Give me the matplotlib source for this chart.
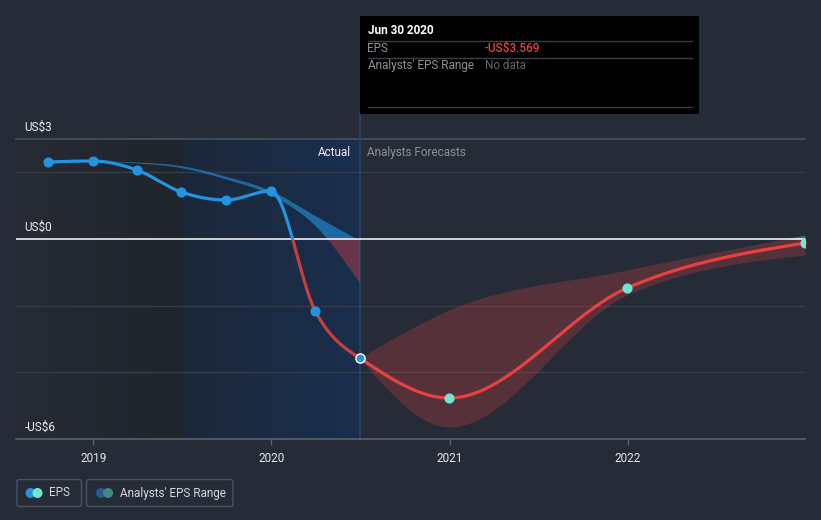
import numpy as np
import pandas as pd
import matplotlib
matplotlib.use("Agg")
import matplotlib.pyplot as plt
import matplotlib.dates as mdates
from matplotlib.patches import Rectangle, FancyBboxPatch, Circle

plt.rcParams['font.family'] = ['Roboto', 'DejaVu Sans']

# ---------------- data ----------------
actual_dates = ["2018-09-30", "2018-12-31", "2019-03-31", "2019-06-30",
                "2019-09-30", "2019-12-31", "2020-03-31", "2020-06-30"]
actual_eps = [2.31, 2.34, 2.07, 1.41, 1.17, 1.44, -2.16, -3.569]

forecast_dates = ["2020-06-30", "2020-12-31", "2021-12-31", "2022-12-31"]
forecast_eps = [-3.569, -4.77, -1.47, -0.12]

past_range_dates = ["2018-12-31", "2019-03-31", "2019-06-30", "2019-09-30",
                    "2019-12-31", "2020-03-31", "2020-06-30"]
past_range_high = [2.34, 2.31, 2.20, 1.88, 1.45, 0.70, -0.05]
past_range_low = [2.34, 2.28, 2.14, 1.80, 1.32, 0.40, -1.32]

fc_range_dates = ["2020-06-30", "2020-12-31", "2021-12-31", "2022-12-31"]
fc_range_high = [-3.569, -2.13, -0.93, 0.12]
fc_range_low = [-3.569, -5.64, -1.68, -0.48]

year_ticks = ["2019", "2020", "2021", "2022"]
y_label_values = [3, 0, -6]
y_label_texts = ["US$3", "US$0", "-US$6"]
grid_values = [2, -2, -4]

tooltip_date = "Jun 30 2020"
tooltip_eps = "-US$3.569"
tooltip_range = "No data"

# ---------------- colours ----------------
BG = "#262c37"
BLUE = "#2394df"
RED = "#e8413f"
TEAL = "#6ee6d2"


def dnum(lst):
    return mdates.date2num(pd.to_datetime(lst).to_pydatetime())


def monotone(x, y, n=120):
    """d3 curveMonotoneX style interpolation."""
    x = np.asarray(x, float)
    y = np.asarray(y, float)
    h = np.diff(x)
    s = np.diff(y) / h
    m = len(x)
    t = np.zeros(m)
    for i in range(1, m - 1):
        h0, h1 = h[i - 1], h[i]
        s0, s1 = s[i - 1], s[i]
        p = (s0 * h1 + s1 * h0) / (h0 + h1)
        t[i] = (np.sign(s0) + np.sign(s1)) * min(abs(s0), abs(s1), 0.5 * abs(p))
    if m > 2:
        t[0] = (3 * s[0] - t[1]) / 2
        t[-1] = (3 * s[-1] - t[-2]) / 2
    else:
        t[0] = t[-1] = s[0]
    xs, ys = [], []
    for i in range(m - 1):
        u = np.linspace(0, 1, n)
        hh = h[i]
        h00 = 2 * u**3 - 3 * u**2 + 1
        h10 = u**3 - 2 * u**2 + u
        h01 = -2 * u**3 + 3 * u**2
        h11 = u**3 - u**2
        yy = h00 * y[i] + h10 * hh * t[i] + h01 * y[i + 1] + h11 * hh * t[i + 1]
        xx = x[i] + u * hh
        if i > 0:
            xx, yy = xx[1:], yy[1:]
        xs.append(xx)
        ys.append(yy)
    return np.concatenate(xs), np.concatenate(ys)


ax_x = dnum(actual_dates)
fx = dnum(forecast_dates)
prx = dnum(past_range_dates)
frx = dnum(fc_range_dates)

xmin = dnum(["2018-12-31"])[0] - 158
xmax = dnum(["2022-12-31"])[0]
YMIN, YMAX = -6, 3

fig = plt.figure(figsize=(8.21, 5.2), dpi=100, facecolor=BG)
ax = fig.add_axes([16 / 821, 81 / 520, 789 / 821, 300 / 520])
ax.set_facecolor(BG)

# ----- background regions -----
split1 = dnum(["2019-06-30"])[0]
split2 = dnum(["2020-06-30"])[0]


def hgrad(c0, c1, n=256):
    a = np.array(matplotlib.colors.to_rgb(c0))
    b = np.array(matplotlib.colors.to_rgb(c1))
    u = np.linspace(0, 1, n)[:, None]
    return (a + (b - a) * u)[None, :, :]


ax.imshow(hgrad("#262b34", "#20242b"), extent=[xmin, split1, YMIN, YMAX],
          aspect="auto", zorder=0, interpolation="bilinear")
ax.imshow(hgrad("#1c2739", "#192f4e"), extent=[split1, split2, YMIN, YMAX],
          aspect="auto", zorder=0, interpolation="bilinear")

# gridlines
for g in grid_values:
    ax.axhline(g, color="#363d49", lw=1, zorder=1)
ax.axhline(YMAX, color="#4a515d", lw=1.2, zorder=1, clip_on=False)
ax.axhline(0, color="white", lw=1.1, zorder=3)

# vertical "now" line extending up to tooltip
ax.axvline(split2, ymin=0, ymax=(439 - 114) / 300, color="#27446a", lw=1.2,
           zorder=2, clip_on=False)

upper_clip = lambda: Rectangle((xmin - 1000, 0), 5000, 20, transform=ax.transData)
lower_clip = lambda: Rectangle((xmin - 1000, -20), 5000, 20, transform=ax.transData)

# ----- past analyst range band -----
bx, bh = monotone(prx, past_range_high)
_, bl = monotone(prx, past_range_low)
ax.fill_between(bx, np.maximum(bl, 0), np.maximum(bh, 0), color=BLUE,
                alpha=0.6, lw=0, zorder=2)
ax.fill_between(bx, np.minimum(bl, 0), np.minimum(bh, 0), color=RED,
                alpha=0.38, lw=0, zorder=2)

# ----- forecast range band -----
fbx, fbh = monotone(frx, fc_range_high)
_, fbl = monotone(frx, fc_range_low)
ax.fill_between(fbx, np.maximum(fbl, 0), np.maximum(fbh, 0), color=TEAL,
                alpha=0.35, lw=0, zorder=2)
ax.fill_between(fbx, np.minimum(fbl, 0), np.minimum(fbh, 0), color=RED,
                alpha=0.25, lw=0, zorder=2)

# ----- EPS lines -----
lx, ly = monotone(ax_x, actual_eps)
l1, = ax.plot(lx, ly, color=BLUE, lw=2.3, zorder=4, solid_capstyle="round")
l1.set_clip_path(upper_clip())
l2, = ax.plot(lx, ly, color=RED, lw=2.3, zorder=4, alpha=0.85)
l2.set_clip_path(lower_clip())

flx, fly = monotone(fx, forecast_eps)
l3, = ax.plot(flx, fly, color=RED, lw=2.3, zorder=4)
l3.set_clip_path(lower_clip())
l4, = ax.plot(flx, fly, color=TEAL, lw=2.3, zorder=4)
l4.set_clip_path(upper_clip())

# markers
ax.plot(ax_x[:-1], actual_eps[:-1], "o", color=BLUE, ms=6.3, zorder=5)
ax.plot(ax_x[-1:], actual_eps[-1:], "o", color=BLUE, ms=6.6, mec="white",
        mew=1.0, zorder=6)
ax.plot(fx[1:], forecast_eps[1:], "o", color=TEAL, ms=6.3, zorder=5)

# axes styling
ax.set_xlim(xmin, xmax)
ax.set_ylim(YMIN, YMAX)
ax.set_yticks([])
ax.set_xticks(dnum([f"{y}-01-01" for y in year_ticks]))
ax.set_xticklabels(year_ticks)
ax.tick_params(axis="x", colors="#5a616c", labelcolor="#e6e8eb", length=4,
               width=1, labelsize=8.5, pad=5)
for s in ["top", "left", "right"]:
    ax.spines[s].set_visible(False)
ax.spines["bottom"].set_color("#5a616c")
ax.spines["bottom"].set_linewidth(1.2)

# y labels
for v, t in zip(y_label_values, y_label_texts):
    ax.annotate(t, xy=(0.011, v), xycoords=("axes fraction", "data"),
                xytext=(0, 8.5), textcoords="offset points", va="center",
                ha="left", color="#eceef1", fontsize=8.5)

ax.annotate("Actual", xy=(split2, 2.6), xytext=(-6, 0),
            textcoords="offset points", ha="right", va="center",
            color="#eceef1", fontsize=8.5, zorder=7)
ax.annotate("Analysts Forecasts", xy=(split2, 2.6), xytext=(5.5, 0),
            textcoords="offset points", ha="left", va="center",
            color="#8b9099", fontsize=8.5, zorder=7)

# ----- overlay in pixel coordinates -----
ov = fig.add_axes([0, 0, 1, 1], zorder=10)
ov.set_xlim(0, 821)
ov.set_ylim(520, 0)
ov.axis("off")
ov.patch.set_alpha(0)

# tooltip
ov.add_patch(Rectangle((359.5, 15.5), 339.5, 98.5, facecolor="black",
                       edgecolor="none"))
ov.text(367.5, 31, tooltip_date, color="white", fontsize=8.5,
        fontweight="bold", va="center", ha="left")
for yy in (40.5, 57.5, 106.5):
    ov.plot([367.5, 691.5], [yy, yy], color="#3b3f45", lw=1)
ov.text(367.5, 48.5, "EPS", color="#8e9299", fontsize=8.5, va="center")
ov.text(485, 48.5, tooltip_eps, color=RED, fontsize=8.5, va="center",
        fontweight="medium")
ov.text(367.5, 65.5, "Analysts' EPS Range", color="#8e9299", fontsize=8.5,
        va="center")
ov.text(485, 65.5, tooltip_range, color="#62666d", fontsize=8.5, va="center")

# legend
ov.add_patch(FancyBboxPatch((17, 479.5), 64.5, 27, boxstyle="round,pad=0,rounding_size=2.5",
                            facecolor="none", edgecolor="#4b5261", lw=1))
ov.add_patch(Circle((30.5, 493), 4.3, color=BLUE))
ov.add_patch(Circle((37.5, 493), 4.3, color=TEAL))
ov.text(49.5, 493, "EPS", color="#d4d7dc", fontsize=8.5, va="center")

ov.add_patch(FancyBboxPatch((86.5, 479.5), 146.5, 27, boxstyle="round,pad=0,rounding_size=2.5",
                            facecolor="none", edgecolor="#4b5261", lw=1))
ov.add_patch(Circle((101, 493), 4.3, color="#245c8c"))
ov.add_patch(Circle((108, 493), 4.3, color="#3f8a86"))
ov.text(120, 493, "Analysts' EPS Range", color="#d4d7dc", fontsize=8.5,
        va="center")

fig.savefig("out.png", dpi=100, facecolor=BG)
